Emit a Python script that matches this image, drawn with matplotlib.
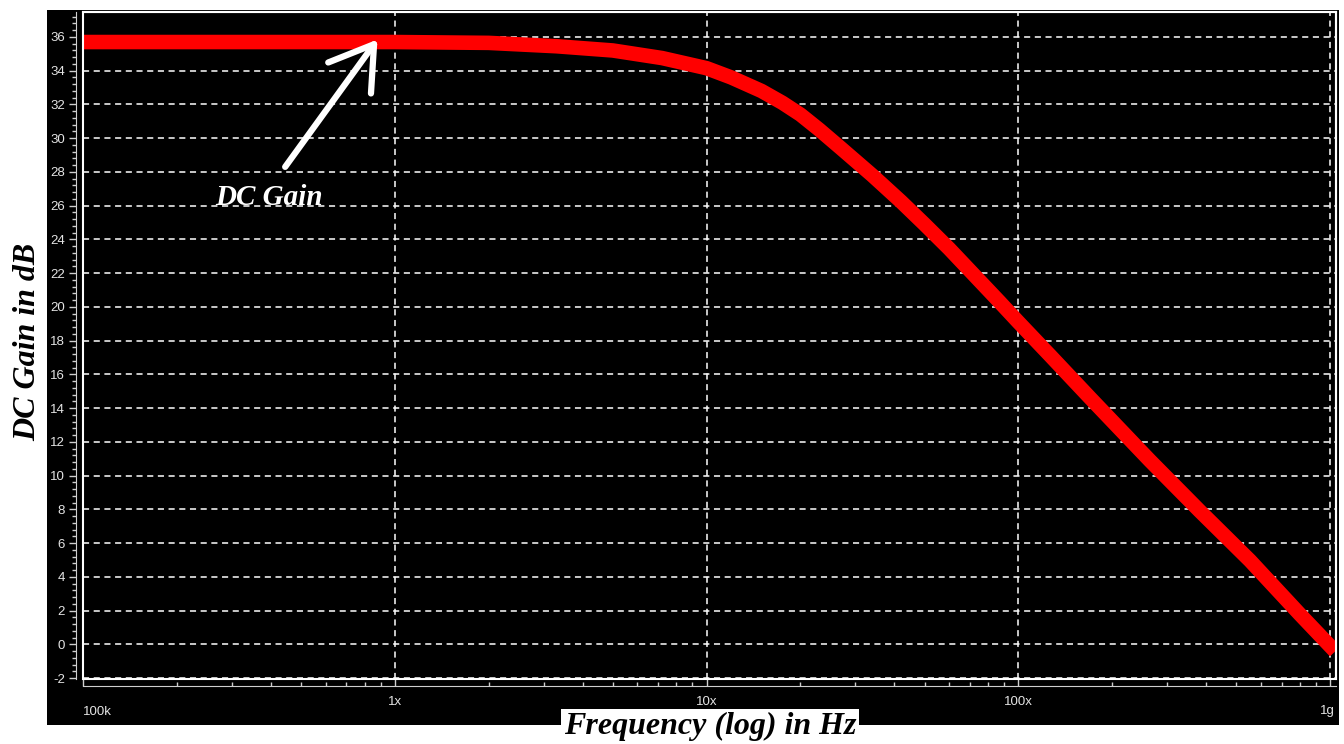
import matplotlib.pyplot as plt
from matplotlib.patches import Rectangle
from matplotlib.ticker import MultipleLocator, LogLocator, NullFormatter
import matplotlib.transforms as mtransforms

plt.rcParams["axes.unicode_minus"] = False

# gain curve read at a few frequencies (Hz, dB)
freq = [1e5, 3e5, 1e6, 2e6, 3.3e6, 5e6, 7.2e6, 1e7, 1.2e7, 1.5e7, 1.75e7,
        2e7, 2.3e7, 2.7e7, 3.4e7, 4.2e7, 5e7, 6e7, 8.7e7, 1e8, 1.26e8,
        1.7e8, 2.64e8, 3.82e8, 5.53e8, 8e8, 1e9]
gain_db = [35.7, 35.7, 35.7, 35.65, 35.45, 35.2, 34.75, 34.15, 33.6, 32.8,
           32.1, 31.4, 30.5, 29.4, 27.8, 26.25, 24.9, 23.45, 20.3, 19.1,
           17.15, 14.6, 10.9, 7.9, 4.97, 1.78, -0.1]

xtick_pos = [1e5, 1e6, 1e7, 1e8, 1e9]
xtick_txt = ["100k", "1x", "10x", "100x", "1g"]

fig = plt.figure(figsize=(13.44, 7.44), dpi=100)
fig.patch.set_facecolor("white")

# black scope panel behind the axes
fig.patches.append(Rectangle((47 / 1344, 1 - 725 / 744), 1292 / 1344, 715 / 744,
                             transform=fig.transFigure, facecolor="black",
                             edgecolor="none", zorder=-5))

ax = fig.add_axes([83 / 1344, 1 - 679 / 744, 1253 / 1344, 667 / 744])
ax.set_zorder(2)
ax.set_facecolor("black")
ax.set_xscale("log")
ax.set_xlim(1e5, 1.044e9)
ax.set_ylim(-2.05, 37.48)

ax.plot(freq, gain_db, color="#ff0000", lw=10.5, solid_capstyle="projecting",
        solid_joinstyle="round", zorder=3)

# grid
ax.set_yticks(range(-2, 37, 2))
ax.yaxis.set_minor_locator(MultipleLocator(0.4))
ax.set_xticks(xtick_pos)
ax.xaxis.set_minor_locator(LogLocator(base=10, subs=range(2, 10)))
ax.xaxis.set_minor_formatter(NullFormatter())
ax.set_xticklabels([])
ax.grid(True, which="major", color="white", ls=(0, (4, 3)), lw=1.1, zorder=1)

# frame around plot area, axis lines pushed out a bit
for side in ("top", "right"):
    ax.spines[side].set_color("white")
    ax.spines[side].set_linewidth(1.5)
ax.spines["left"].set_position(("outward", 5))
ax.spines["bottom"].set_position(("outward", 5))
ax.spines["left"].set_color("#cfcfcf")
ax.spines["bottom"].set_color("#cfcfcf")
ax.add_patch(Rectangle((0, 0), 1, 1, transform=ax.transAxes, fill=False,
                       edgecolor="white", lw=1.5, zorder=4, clip_on=False))

ax.tick_params(axis="y", which="major", direction="out", length=5, width=1,
               color="#cfcfcf", labelcolor="#e4e4e4", labelsize=9.5, pad=3)
ax.tick_params(axis="y", which="minor", direction="out", length=3, width=1,
               color="#cfcfcf")
ax.tick_params(axis="x", which="major", direction="in", length=6, width=1,
               color="#cfcfcf")
ax.tick_params(axis="x", which="minor", direction="in", length=3, width=1,
               color="#cfcfcf")
for lbl in ax.get_yticklabels():
    lbl.set_family("Liberation Sans")

# frequency labels under the axis
trans = mtransforms.blended_transform_factory(ax.transData, ax.transAxes)
ypos = [-0.05, -0.035, -0.035, -0.035, -0.048]
align = ["left", "center", "center", "center", "right"]
shift = [1.0, 1.0, 1.0, 1.0, 1.035]
for f, t, yy, ha, s in zip(xtick_pos, xtick_txt, ypos, align, shift):
    ax.text(f * s, yy, t, transform=trans, ha=ha, va="center", fontsize=9.5,
            color="#e4e4e4", family="Liberation Sans", clip_on=False)

serif = dict(family="Liberation Serif", weight="bold", style="italic")
fig.text(28 / 1344, 1 - 342 / 744, "DC Gain in dB", rotation=90, ha="center",
         va="center", fontsize=23, color="black", **serif)
fig.text(710 / 1344, 1 - 726 / 744, "Frequency (log) in Hz", ha="center",
         va="center", fontsize=23, color="black", zorder=5,
         bbox=dict(facecolor="white", edgecolor="none", pad=2), **serif)

# arrow pointing at the flat part of the curve
ax.annotate("", xy=(8.8e5, 35.85), xytext=(4.45e5, 28.3),
            arrowprops=dict(arrowstyle="->,head_length=3.0,head_width=1.9",
                            color="white", lw=4.5, shrinkA=0, shrinkB=0),
            zorder=5)
ax.text(3.95e5, 26.5, "DC Gain", ha="center", va="center", fontsize=21,
        color="white", zorder=5, **serif)

fig.savefig("out.png", dpi=100, facecolor="white")
